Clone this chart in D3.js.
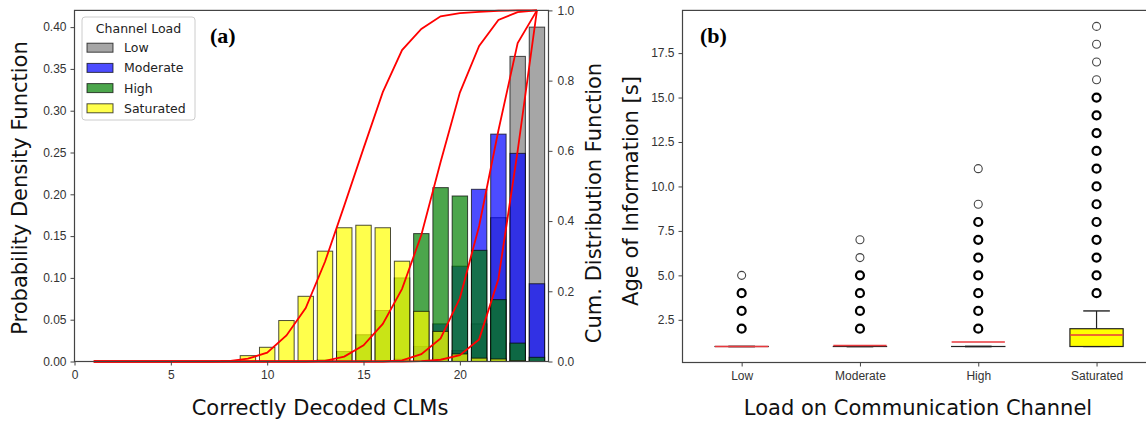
<!DOCTYPE html>
<html>
<head>
<meta charset="utf-8">
<script src="https://cdn.jsdelivr.net/npm/d3@7"></script>
<style>
  body { margin: 0; background: #fff; }
  svg { display: block; font-family: 'DejaVu Sans', sans-serif; }
  .axis text { fill: #333; font-size: 12px; }
  .axis line { stroke: #444; }
  .axis path { display: none; }
</style>
</head>
<body>
<svg id="chart" width="1146" height="421"></svg>
<script>
// ---- data ----
const clmCounts = [1, 2, 3, 4, 5, 6, 7, 8, 9, 10, 11, 12, 13, 14, 15, 16, 17, 18, 19, 20, 21, 22, 23, 24];
const loadLevels = ['Low', 'Moderate', 'High', 'Saturated'];

const pdfLow = [0, 0, 0, 0, 0, 0, 0, 0, 0, 0, 0, 0, 0, 0, 0, 0, 0, 0.001, 0.004, 0.013, 0.045, 0.172, 0.365, 0.400];
const pdfModerate = [0, 0, 0, 0, 0, 0, 0, 0, 0, 0, 0, 0, 0, 0, 0, 0, 0.003, 0.018, 0.045, 0.114, 0.206, 0.272, 0.249, 0.093];
const pdfHigh = [0, 0, 0, 0, 0, 0, 0, 0, 0, 0, 0, 0, 0.002, 0.012, 0.032, 0.061, 0.100, 0.153, 0.208, 0.198, 0.133, 0.074, 0.022, 0.005];
const pdfSaturated = [0, 0, 0, 0, 0, 0, 0, 0.001, 0.007, 0.017, 0.049, 0.078, 0.132, 0.160, 0.163, 0.160, 0.120, 0.060, 0.036, 0.009, 0.004, 0.003, 0.001, 0];

const pdfTicks = [0, 0.05, 0.10, 0.15, 0.20, 0.25, 0.30, 0.35, 0.40];
const cdfTicks = [0, 0.2, 0.4, 0.6, 0.8, 1.0];
const clmTicks = [0, 5, 10, 15, 20];
const aoiTicks = [2.5, 5.0, 7.5, 10.0, 12.5, 15.0, 17.5];

// box plot stats per load level (seconds)
const boxQ1 = [1, 1, 1, 1];
const boxMedian = [1, 1.05, 1.25, 1.65];
const boxQ3 = [1, 1, 1, 2];
const whiskerLow = [1, 1, 1, 1];
const whiskerHigh = [1, 1, 1, 3];
const outliersLow = [2, 3, 4, 5];
const outliersModerate = [2, 3, 4, 5, 6, 7];
const outliersHigh = [2, 3, 4, 5, 6, 7, 8, 9, 11];
const outliersSaturated = [4, 5, 6, 7, 8, 9, 10, 11, 12, 13, 14, 15, 16, 17, 18, 19];
// outliers that appear only once (thin rings)
const singleLow = [5];
const singleModerate = [6, 7];
const singleHigh = [9, 11];
const singleSaturated = [16, 17, 18, 19];

// ---- drawing ----
const svg = d3.select('#chart');
const colours = ['gray', 'blue', 'green', 'yellow'];
const pdfSeries = [pdfLow, pdfModerate, pdfHigh, pdfSaturated];

// panel (a)
const xClm = d3.scaleLinear().domain([0, 24.6]).range([74.5, 548.5]);
const yPdf = d3.scaleLinear().domain([0, 0.42]).range([361.5, 10.4]);
const yCdf = d3.scaleLinear().domain([0, 1]).range([361.5, 10.4]);

const gA = svg.append('g');
const barWidth = 0.8;

pdfSeries.forEach((series, s) => {
  gA.append('g')
    .selectAll('rect')
    .data(series.map((v, i) => ({ x: clmCounts[i], y: v })).filter((d) => d.y > 0))
    .join('rect')
    .attr('x', (d) => xClm(d.x - barWidth / 2))
    .attr('width', (d) => xClm(d.x + barWidth / 2) - xClm(d.x - barWidth / 2))
    .attr('y', (d) => yPdf(d.y))
    .attr('height', (d) => yPdf(0) - yPdf(d.y))
    .attr('fill', colours[s])
    .attr('fill-opacity', 0.7)
    .attr('stroke', '#000')
    .attr('stroke-opacity', 0.7)
    .attr('stroke-width', 1);
});

const cdfLine = d3.line()
  .x((d) => xClm(d.x))
  .y((d) => yCdf(d.y));

pdfSeries.forEach((series) => {
  const cum = d3.cumsum(series);
  const total = cum[cum.length - 1];
  gA.append('path')
    .datum(clmCounts.map((x, i) => ({ x, y: cum[i] / total })))
    .attr('d', cdfLine)
    .attr('fill', 'none')
    .attr('stroke', 'red')
    .attr('stroke-width', 1.8);
});

gA.append('rect')
  .attr('x', xClm.range()[0]).attr('y', yPdf.range()[1])
  .attr('width', xClm.range()[1] - xClm.range()[0])
  .attr('height', yPdf.range()[0] - yPdf.range()[1])
  .attr('fill', 'none').attr('stroke', '#444').attr('stroke-width', 1.2);

gA.append('g').attr('class', 'axis')
  .attr('transform', 'translate(' + xClm.range()[0] + ',0)')
  .call(d3.axisLeft(yPdf).tickValues(pdfTicks).tickFormat(d3.format('.2f')).tickSize(4).tickPadding(4));
gA.append('g').attr('class', 'axis')
  .attr('transform', 'translate(' + xClm.range()[1] + ',0)')
  .call(d3.axisRight(yCdf).tickValues(cdfTicks).tickFormat(d3.format('.1f')).tickSize(4).tickPadding(5));
gA.append('g').attr('class', 'axis')
  .attr('transform', 'translate(0,' + yPdf.range()[0] + ')')
  .call(d3.axisBottom(xClm).tickValues(clmTicks).tickFormat(d3.format('d')).tickSize(4).tickPadding(5));

// legend
const legend = gA.append('g').attr('transform', 'translate(82,17)');
legend.append('rect')
  .attr('width', 113).attr('height', 103).attr('rx', 3)
  .attr('fill', '#fff').attr('fill-opacity', 0.8)
  .attr('stroke', '#ccc');
legend.append('text')
  .attr('x', 56.5).attr('y', 15.5).attr('text-anchor', 'middle')
  .style('font-size', '12.5px').attr('fill', '#222')
  .text('Channel Load');
loadLevels.forEach((name, i) => {
  const row = legend.append('g').attr('transform', 'translate(0,' + (30.7 + i * 20.2) + ')');
  row.append('rect')
    .attr('x', 5).attr('y', -4.5).attr('width', 26).attr('height', 9)
    .attr('fill', colours[i]).attr('fill-opacity', 0.7)
    .attr('stroke', '#000').attr('stroke-opacity', 0.7);
  row.append('text')
    .attr('x', 42).attr('y', 4.5)
    .style('font-size', '12.5px').attr('fill', '#222')
    .text(name);
});

gA.append('text')
  .attr('x', 210).attr('y', 43)
  .style('font-family', "'Liberation Serif', serif").style('font-weight', 'bold').style('font-size', '22px')
  .text('(a)');

gA.append('text')
  .attr('transform', 'translate(27,188) rotate(-90)')
  .attr('text-anchor', 'middle').style('font-size', '21px').attr('fill', '#111')
  .text('Probability Density Function');
gA.append('text')
  .attr('transform', 'translate(601,203) rotate(-90)')
  .attr('text-anchor', 'middle').style('font-size', '21px').attr('fill', '#111')
  .text('Cum. Distribution Function');
gA.append('text')
  .attr('x', 320).attr('y', 415)
  .attr('text-anchor', 'middle').style('font-size', '21px').attr('fill', '#111')
  .text('Correctly Decoded CLMs');

// panel (b)
const xLoad = d3.scaleLinear().domain([0.5, 4.5]).range([682.5, 1155.7]);
const yAoi = d3.scaleLinear().domain([0.1, 19.9]).range([362.5, 10.4]);
const gB = svg.append('g');

const outlierSets = [outliersLow, outliersModerate, outliersHigh, outliersSaturated];
const singleSets = [singleLow, singleModerate, singleHigh, singleSaturated];
const boxHalf = 0.225;

loadLevels.forEach((name, i) => {
  const cx = xLoad(i + 1);
  const g = gB.append('g');
  const half = xLoad(i + 1 + boxHalf) - cx;
  // whiskers
  g.append('line').attr('x1', cx).attr('x2', cx)
    .attr('y1', yAoi(boxQ3[i])).attr('y2', yAoi(whiskerHigh[i]))
    .attr('stroke', '#222').attr('stroke-width', 1.2);
  g.append('line').attr('x1', cx).attr('x2', cx)
    .attr('y1', yAoi(boxQ1[i])).attr('y2', yAoi(whiskerLow[i]))
    .attr('stroke', '#222').attr('stroke-width', 1.2);
  [whiskerLow[i], whiskerHigh[i]].forEach((w) => {
    g.append('line').attr('x1', cx - half / 2).attr('x2', cx + half / 2)
      .attr('y1', yAoi(w)).attr('y2', yAoi(w))
      .attr('stroke', '#222').attr('stroke-width', 1.4);
  });
  // box
  g.append('rect')
    .attr('x', cx - half).attr('width', 2 * half)
    .attr('y', yAoi(boxQ3[i])).attr('height', Math.max(0.01, yAoi(boxQ1[i]) - yAoi(boxQ3[i])))
    .attr('fill', 'yellow').attr('stroke', '#222').attr('stroke-width', 1.2);
  // median
  g.append('line').attr('x1', cx - half).attr('x2', cx + half)
    .attr('y1', yAoi(boxMedian[i])).attr('y2', yAoi(boxMedian[i]))
    .attr('stroke', '#e8383d').attr('stroke-width', 1.5);
  // outliers
  g.selectAll('circle')
    .data(outlierSets[i])
    .join('circle')
    .attr('cx', cx).attr('cy', (d) => yAoi(d)).attr('r', 4)
    .attr('fill', 'none')
    .attr('stroke', (d) => (singleSets[i].includes(d) ? '#444' : '#000'))
    .attr('stroke-width', (d) => (singleSets[i].includes(d) ? 1.1 : 2.2));
});

gB.append('rect')
  .attr('x', xLoad.range()[0]).attr('y', yAoi.range()[1])
  .attr('width', xLoad.range()[1] - xLoad.range()[0])
  .attr('height', yAoi.range()[0] - yAoi.range()[1])
  .attr('fill', 'none').attr('stroke', '#444').attr('stroke-width', 1.2);

gB.append('g').attr('class', 'axis')
  .attr('transform', 'translate(' + xLoad.range()[0] + ',0)')
  .call(d3.axisLeft(yAoi).tickValues(aoiTicks).tickFormat(d3.format('.1f')).tickSize(4).tickPadding(4));
gB.append('g').attr('class', 'axis')
  .attr('transform', 'translate(0,' + yAoi.range()[0] + ')')
  .call(d3.axisBottom(xLoad).tickValues([1, 2, 3, 4]).tickFormat((d) => loadLevels[d - 1]).tickSize(4).tickPadding(5));

gB.append('text')
  .attr('x', 700).attr('y', 43)
  .style('font-family', "'Liberation Serif', serif").style('font-weight', 'bold').style('font-size', '22px')
  .text('(b)');

gB.append('text')
  .attr('transform', 'translate(638,191) rotate(-90)')
  .attr('text-anchor', 'middle').style('font-size', '21px').attr('fill', '#111')
  .text('Age of Information [s]');
gB.append('text')
  .attr('x', 918).attr('y', 415)
  .attr('text-anchor', 'middle').style('font-size', '21px').attr('fill', '#111')
  .text('Load on Communication Channel');
</script>
</body>
</html>
